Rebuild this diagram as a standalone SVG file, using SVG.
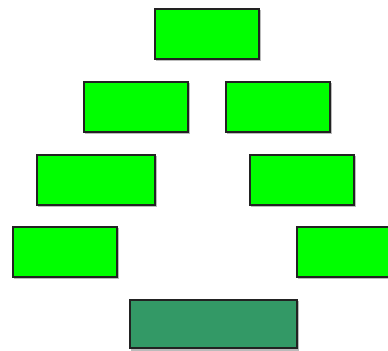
<svg xmlns="http://www.w3.org/2000/svg" width="388" height="351" viewBox="0 0 388 351">
<style>
.n{fill:#00ff00;stroke:#222;stroke-width:2}
.d{fill:#339966;stroke:#222;stroke-width:2}
.s{fill:#bbb}
</style>
<rect width="388" height="351" fill="#fff"/>
<g id="connectors"></g>
<g id="n1"><rect class="s" x="156" y="10" width="105" height="51"/><rect class="n" x="155" y="9" width="104" height="50"/></g>
<g id="n2"><rect class="s" x="85" y="83" width="105" height="51"/><rect class="n" x="84" y="82" width="104" height="50"/></g>
<g id="n3"><rect class="s" x="227" y="83" width="105" height="51"/><rect class="n" x="226" y="82" width="104" height="50"/></g>
<g id="n4"><rect class="s" x="38" y="156" width="119" height="51"/><rect class="n" x="37" y="155" width="118" height="50"/></g>
<g id="n5"><rect class="s" x="251" y="156" width="105" height="51"/><rect class="n" x="250" y="155" width="104" height="50"/></g>
<g id="n6"><rect class="s" x="14" y="228" width="105" height="51"/><rect class="n" x="13" y="227" width="104" height="50"/></g>
<g id="n7"><rect class="s" x="298" y="228" width="105" height="51"/><rect class="n" x="297" y="227" width="104" height="50"/></g>
<g id="n8"><rect class="s" x="131" y="301" width="168" height="50"/><rect class="d" x="130" y="300" width="167" height="48"/></g>
</svg>
